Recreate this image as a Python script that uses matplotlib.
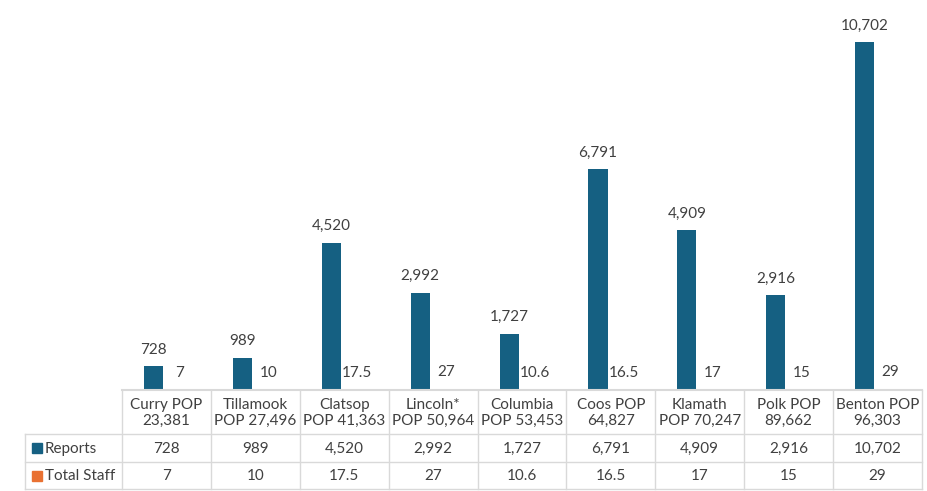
import numpy as np
import matplotlib.pyplot as plt

counties = ["Curry POP\n23,381", "Tillamook\nPOP 27,496", "Clatsop\nPOP 41,363",
            "Lincoln*\nPOP 50,964", "Columbia\nPOP 53,453", "Coos POP\n64,827",
            "Klamath\nPOP 70,247", "Polk POP\n89,662", "Benton POP\n96,303"]
reports = [728, 989, 4520, 2992, 1727, 6791, 4909, 2916, 10702]
staff = [7, 10, 17.5, 27, 10.6, 16.5, 17, 15, 29]
series_names = ["Reports", "Total Staff"]

blue = "#156082"
orange = "#E97132"
txt = "#404040"
grid = "#d9d9d9"

plt.rcParams['font.family'] = ['Lato', 'DejaVu Sans']

W, H = 927, 491
fig = plt.figure(figsize=(W / 100, H / 100), dpi=100)

# chart area (pixel layout)
x0, x1 = 122, 922
base = 390
ax = fig.add_axes([x0 / W, 1 - base / H, (x1 - x0) / W, base / H])
n = len(counties)
x = np.arange(n)
bw = 0.215
off = 0.145
b1 = ax.bar(x - off, reports, bw, color=blue)
b2 = ax.bar(x + off, staff, bw, color=orange)
for r, v in zip(b1, reports):
    ax.annotate(f"{v:,}", (r.get_x() + r.get_width() / 2, v), xytext=(0, 7),
                textcoords="offset points", ha="center", va="bottom",
                fontsize=11, color=txt)
for r, v in zip(b2, staff):
    ax.annotate(f"{v:g}", (r.get_x() + r.get_width() / 2, v), xytext=(0, 7),
                textcoords="offset points", ha="center", va="bottom",
                fontsize=11, color=txt)
ax.set_xlim(-0.5, n - 0.5)
ax.set_ylim(0, 12000)
ax.axis("off")

# data table below
tx0 = 25
rows = [390, 434, 462, 489]
tax = fig.add_axes([0, 0, 1, 1])
tax.set_xlim(0, W)
tax.set_ylim(H, 0)
tax.axis("off")
cw = (x1 - x0) / n
lw = 1.0
# horizontal lines
tax.plot([x0, x1], [rows[0], rows[0]], color=grid, lw=1.5)
for yy in rows[1:]:
    tax.plot([tx0, x1], [yy, yy], color=grid, lw=lw)
# vertical lines
tax.plot([tx0, tx0], [rows[1], rows[3]], color=grid, lw=lw)
for i in range(n + 1):
    tax.plot([x0 + i * cw] * 2, [rows[0], rows[3]], color=grid, lw=lw)

for i, c in enumerate(counties):
    cx = x0 + (i + 0.5) * cw
    tax.text(cx, (rows[0] + rows[1]) / 2 + 1, c, ha="center", va="center",
             fontsize=11, color=txt, linespacing=1.15)
    tax.text(cx, (rows[1] + rows[2]) / 2 + 1, f"{reports[i]:,}", ha="center",
             va="center", fontsize=11, color=txt)
    tax.text(cx, (rows[2] + rows[3]) / 2 + 1, f"{staff[i]:g}", ha="center",
             va="center", fontsize=11, color=txt)

for k, (name, col) in enumerate(zip(series_names, [blue, orange])):
    cy = (rows[k + 1] + rows[k + 2]) / 2
    tax.add_patch(plt.Rectangle((32, cy - 5), 10, 10, color=col))
    tax.text(45, cy + 1, name, ha="left", va="center", fontsize=11, color=txt)

fig.savefig("out.png", dpi=100)
